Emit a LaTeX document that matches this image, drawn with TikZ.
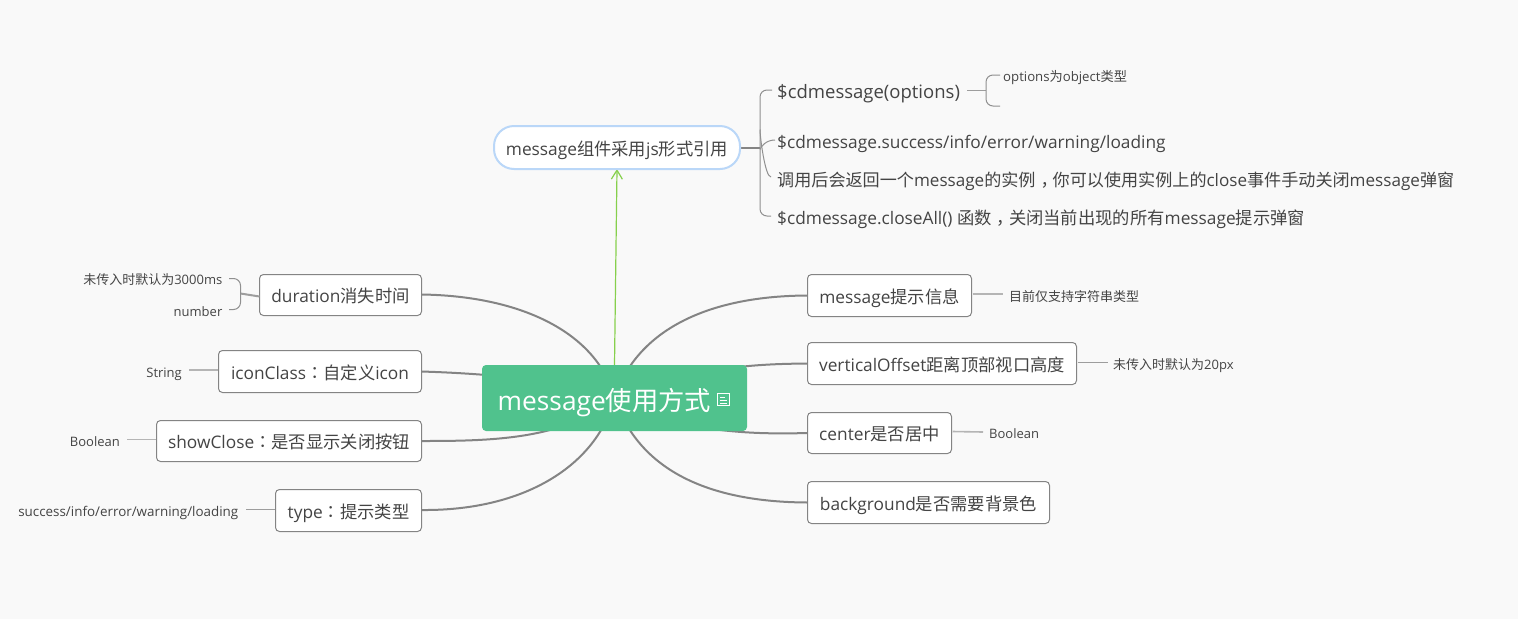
\documentclass[tikz,border=0pt]{standalone}
\usepackage{fontspec}
\usetikzlibrary{arrows.meta,backgrounds}
\setmainfont{Open Sans}
\newfontfamily\cjkfont{Noto Sans CJK SC}
\newfontfamily\cjkpunct{Noto Sans CJK TC}
\newcommand{\zh}[1]{{\cjkfont #1}}
\newcommand{\zhcolon}{{\cjkpunct ：}}
\newcommand{\zhcomma}{{\cjkfont\kern0.3em ，\kern-0.3em}}
\definecolor{bgc}{HTML}{F9F9F9}
\definecolor{edgec}{HTML}{848484}
\definecolor{txtc}{HTML}{444444}
\definecolor{leafc}{HTML}{B5B5B5}
\definecolor{rootc}{HTML}{50C28D}
\definecolor{bluec}{HTML}{BAD7F8}
\definecolor{greenc}{HTML}{86D04C}
\tikzset{
 x=1pt,y=-1pt,
 box/.style={draw=edgec,fill=white,line width=1pt,rounded corners=4pt,inner sep=0pt,outer sep=0pt,text=txtc,font=\fontsize{17.3}{20}\selectfont,anchor=north west,text height=18pt,text depth=2.6pt},
 plain/.style={inner sep=0pt,text=txtc,font=\fontsize{17.3}{20}\selectfont,anchor=base west},
 small/.style={inner sep=0pt,text=txtc,font=\fontsize{13}{16}\selectfont,anchor=base},
 main/.style={draw=edgec,line width=2pt},
 lead/.style={draw=leafc,line width=1.6pt},
 thin lead/.style={draw=edgec!80,line width=1pt},
 brace/.style={draw=edgec!90,line width=1pt,rounded corners=7pt},
 stub/.style={draw=edgec!90,line width=1pt},
}
\begin{document}
\begin{tikzpicture}
\useasboundingbox (0,0) rectangle (1518,619);
% root
\node[fill=rootc,rounded corners=4pt,minimum width=265pt,minimum height=66pt,inner sep=0pt,outer sep=0pt,anchor=north west] (root) at (482,365) {};
\node[inner sep=0pt,anchor=base west,text=white,font=\fontsize{26.3}{30}\selectfont] (roottext) at (497.5,410.5) {message\zh{使用方式}};
\draw[white,line width=1pt] (717.5,393.5) rectangle (729.5,405.5);
\draw[white,line width=0.8pt] (720,397) -- (724.5,397) (720,400) -- (727,400) (720,403) -- (727,403);
% left branches
\node[box,minimum width=162pt,minimum height=41pt] (dur) at (259.5,274.5) {duration\zh{消失时间}};
\node[box,minimum width=203pt,minimum height=42pt] (icon) at (218.5,350.5) {iconClass\zhcolon\zh{自定义}icon};
\node[box,minimum width=265pt,minimum height=41pt] (show) at (156.5,420.5) {showClose\zhcolon\zh{是否显示关闭按钮}};
\node[box,minimum width=146pt,minimum height=42pt] (type) at (275.5,489.5) {type\zhcolon\zh{提示类型}};
% right branches
\node[box,minimum width=164pt,minimum height=42pt] (msg) at (807.5,274.5) {message\zh{提示信息}};
\node[box,minimum width=269pt,minimum height=42pt] (vert) at (807.5,342.5) {verticalOffset\zh{距离顶部视口高度}};
\node[box,minimum width=144pt,minimum height=41pt] (cent) at (807.5,412.5) {center\zh{是否居中}};
\node[box,minimum width=242pt,minimum height=42pt] (bg) at (807.5,481.5) {background\zh{是否需要背景色}};
% top node
\node[draw=bluec,fill=white,line width=2pt,rounded corners=20pt,minimum width=246pt,minimum height=43pt,inner sep=0pt,outer sep=0pt,anchor=north west,text=txtc,font=\fontsize{17.3}{20}\selectfont,text height=16pt,text depth=1pt] (top) at (494,126) {message\zh{组件采用}js\zh{形式引用}};
% top children
\node[plain,font=\fontsize{18.5}{20}\selectfont] (t1) at (777,98) {\$cdmessage(options)};
\node[plain] (t2) at (777,148) {\$cdmessage.success/info/error/warning/loading};
\node[plain,font=\fontsize{17.1}{20}\selectfont] (t3) at (777,186) {\zh{调用后会返回一个}message\zh{的实例}\zhcomma\zh{你可以使用实例上的}close\zh{事件手动关闭}message\zh{弹窗}};
\node[plain] (t4) at (777,224) {\$cdmessage.closeAll() \zh{函数}\zhcomma\zh{关闭当前出现的所有}message\zh{提示弹窗}};
\node[small,anchor=base west,font=\fontsize{13.2}{16}\selectfont] (opt) at (1003,81) {options\zh{为}object\zh{类型}};
\coordinate (optb) at (1000,106);
% leaves
\node[small,anchor=base east] (l1) at (222.5,284) {\zh{未传入时默认为}3000ms};
\node[small,anchor=base east] (l2) at (222.5,316) {number};
\node[small,anchor=base east] (l3) at (182,377) {String};
\node[small,anchor=base east] (l4) at (120,446) {Boolean};
\node[small,anchor=base east,font=\fontsize{13.4}{16}\selectfont] (l5) at (238.5,516) {success/info/error/warning/loading};
\node[small,anchor=base west] (r1) at (1009,301) {\zh{目前仅支持字符串类型}};
\node[small,anchor=base west] (r2) at (1113,369) {\zh{未传入时默认为}20px};
\node[small,anchor=base west] (r3) at (989,438) {Boolean};
\begin{pgfonlayer}{background}
\fill[bgc] (0,0) rectangle (1518,619);
\draw[main] ([yshift=0.5]dur.east) .. controls (525,296) and (598,335) .. (root.center);
\draw[main] (icon.east) .. controls (470,373) and (560,378) .. (root.center);
\draw[main] (show.east) .. controls (490,441) and (565,440) .. (root.center);
\draw[main] ([yshift=0.5]type.east) .. controls (525,511) and (597,465) .. (root.center);
\draw[main] (msg.west) .. controls (700,296) and (635,335) .. (root.center);
\draw[main] (vert.west) .. controls (770,364) and (700,364) .. (root.center);
\draw[main] (cent.west) .. controls (770,434) and (680,436) .. (root.center);
\draw[main] (bg.west) .. controls (700,502) and (637,465) .. (root.center);
\draw[greenc,line width=1.2pt,-{Straight Barb[length=9pt,width=11pt]}] (root.north) -- (top.south);
\draw[main] (top.east) -- ++(20,0) coordinate (hub);
\draw[brace] ([shift={(-5,-8)}]t1.base west) -| (hub) |- ([shift={(-6,-8)}]t4.base west);
\draw[stub] ([yshift=-2]hub) .. controls +(1,-3) and +(-9,0) .. ([shift={(-2,-8)}]t2.base west);
\draw[stub] ([yshift=18]hub) .. controls +(0,7) and +(-6,0) .. ([shift={(-6,-9)}]t3.base west);
\end{pgfonlayer}
\draw[thin lead] ([xshift=7]t1.base east |- 0,90) -- (986,90) coordinate (h2);
\draw[brace] ([xshift=-3]opt.base west |- 0,75) -| (h2) |- (optb);
\draw[main,draw=edgec!80] ([yshift=-1.5]dur.west) -- (240.5,293.5) coordinate (h3);
\draw[brace] (229,278.5) -| (h3) |- (229,309.5);
\draw[lead] ([shift={(-1,-1.5)}]icon.west) -- (188.5,370);
\draw[lead] ([shift={(-1,-1.5)}]show.west) -- (127,439.5);
\draw[thin lead] ([shift={(-1,-1.5)}]type.west) -- (245.5,509);
\draw[lead] ([shift={(1,-1.5)}]msg.east) -- (1003,294);
\draw[thin lead] ([shift={(1,-1.5)}]vert.east) -- (1108,362);
\draw[lead] ([shift={(1,-1.5)}]cent.east) -- (983,432);
\end{tikzpicture}
\end{document}
